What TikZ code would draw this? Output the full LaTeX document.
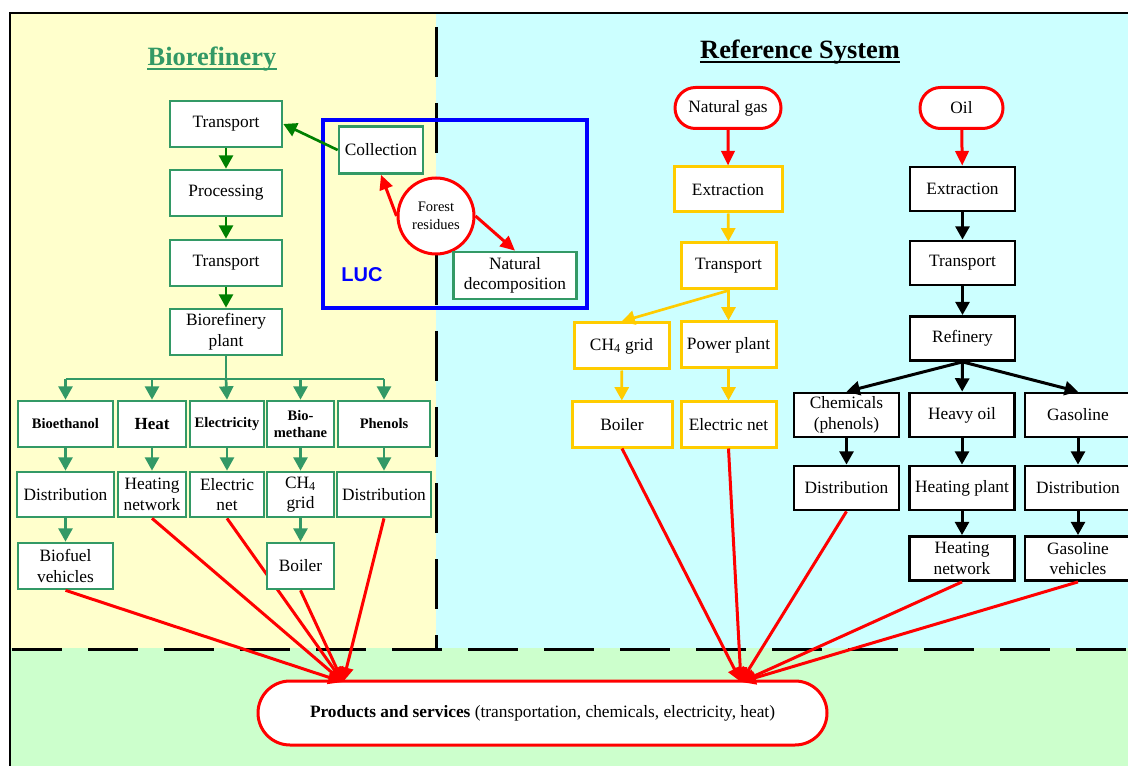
\documentclass[tikz,border=0pt]{standalone}
\usepackage{fontspec}
\setmainfont{Liberation Serif}
\newfontfamily\arialfont{Liberation Sans}
\usetikzlibrary{arrows.meta,shapes.misc}

\definecolor{bgyellow}{RGB}{255,255,204}
\definecolor{bgcyan}{RGB}{204,255,255}
\definecolor{bggreen}{RGB}{204,255,204}
\definecolor{boxgreen}{RGB}{51,153,102}
\definecolor{arrgreen}{RGB}{0,128,0}
\definecolor{gold}{RGB}{255,204,0}

\pgfdeclarelayer{back}
\pgfdeclarelayer{mid}
\pgfsetlayers{back,mid,main}

\tikzset{every picture/.style={line width=0.75pt}}
\tikzset{
  lbl/.style={font=\fontsize{13}{15.5}\selectfont, align=center, inner sep=0pt, fill=white},
  gbox/.style={lbl, draw=boxgreen, line width=2pt, minimum height=34.5pt},
  ybox/.style={lbl, draw=gold, line width=2.25pt, minimum height=34.5pt, minimum width=71.25pt},
  kbox/.style={lbl, draw=black, line width=2.1pt, minimum height=33pt, minimum width=78.75pt},
  pill/.style={lbl, rounded rectangle, draw=red, line width=2.25pt},
  prodlbl/.style={font=\fontsize{10.9}{13}\selectfont\bfseries},
  title/.style={anchor=base, inner sep=0pt, font=\fontsize{19.8}{24}\selectfont\bfseries},
  tip/.style={-{Triangle[length=10pt,width=10.5pt]}},
  garr/.style={draw=arrgreen, line width=2pt, tip},
  bline/.style={draw=boxgreen, line width=2pt},
  barr/.style={bline, tip},
  yarr/.style={draw=gold, line width=2pt, tip},
  karr/.style={draw=black, line width=2.25pt, tip},
  rarr/.style={draw=red, line width=2.25pt, -{Triangle[length=11pt,width=10pt]}},
  dashline/.style={line width=2.25pt, dash pattern=on 37.5pt off 19.5pt}
}

\begin{document}
\begin{tikzpicture}[x=0.75pt,y=0.75pt,yscale=-1,xscale=1]
\useasboundingbox (0,0) rectangle (1128,766);

\begin{pgfonlayer}{back}
%Shape: Rectangle (panels)
\fill[bgyellow] (11,14) rectangle (436,648);
\fill[bgcyan] (436,14) rectangle (1130,648);
\fill[bggreen] (11,648) rectangle (1130,768);
%Shape: Rectangle (frame)
\draw[line width=1.5pt] (10,13) rectangle (1140,780);
%Straight Lines (dashed borders)
\draw[dashline] (436,27) -- (436,648);
\draw[dashline] (12,649) -- (1128,649);
\end{pgfonlayer}

% Titles
\node (biotitle) [title, text=boxgreen] at (212,66) {Biorefinery};
\draw[boxgreen, line width=1.6pt] ([shift={(0,3)}]biotitle.base west) -- ([shift={(0,3)}]biotitle.base east);
\node (reftitle) [title] at (800,59) {Reference System};
\draw[line width=1.6pt] ([shift={(0,3)}]reftitle.base west) -- ([shift={(0,3)}]reftitle.base east);

%Shape: LUC frame
\draw[blue, line width=3.4pt] (323,120) rectangle (587,308);
\node (luc) [text=blue, font=\arialfont\bfseries\fontsize{15}{18}\selectfont] at (362,275) {LUC};

% Biorefinery chain
\node (tr1) [gbox, minimum width=84pt] at (226,124) {Transport};
\node (proc) [gbox, minimum width=84pt] at (226,193) {Processing};
\node (tr2) [gbox, minimum width=84pt] at (226,263) {Transport};
\node (plant) [gbox, minimum width=84pt] at (226,332) {Biorefinery\\plant};
\node (coll) [gbox, minimum width=63pt, minimum height=35.25pt] at (381,150) {Collection};
\node (forest) [circle, draw=red, line width=2.25pt, fill=white, minimum size=57pt, inner sep=0pt, align=center, font=\fontsize{10.9}{13.5}\selectfont] at (436,216) {Forest\\residues};
\node (natdec) [gbox, minimum width=92.25pt, minimum height=35.25pt] at (515,275.5) {Natural\\decomposition};

% Products of the biorefinery
\node (bioeth) [gbox, prodlbl, minimum width=71.25pt] at (65.5,424) {Bioethanol};
\node (heat) [gbox, minimum width=51pt, font=\fontsize{12.75}{15}\selectfont\bfseries] at (152,424) {Heat};
\node (elec) [gbox, prodlbl, minimum width=55.5pt] at (227,424) {Electricity};
\node (biometh) [gbox, prodlbl, minimum width=50.25pt] at (300.5,424) {Bio-\\methane};
\node (phen) [gbox, prodlbl, minimum width=69pt] at (384,424) {Phenols};

\node (dist1) [gbox, minimum width=72.75pt, minimum height=33.75pt] at (65.5,494.5) {Distribution};
\node (heatnet) [gbox, minimum width=51pt, minimum height=33.75pt] at (152,494.5) {Heating\\network};
\node (elecnet) [gbox, minimum width=55.5pt, minimum height=33.75pt] at (227,494.5) {Electric\\net};
\node (ch4a) [gbox, minimum width=50.25pt, minimum height=33.75pt] at (300.5,494.5) {CH\textsubscript{4}\\grid};
\node (dist2) [gbox, minimum width=70.5pt, minimum height=33.75pt] at (384,494.5) {Distribution};

\node (biofuel) [gbox, minimum width=71.25pt] at (65.5,566) {Biofuel\\vehicles};
\node (boilA) [gbox, minimum width=50.25pt] at (300.5,566) {Boiler};

% Natural gas chain
\node (ng) [pill, minimum width=79.5pt, minimum height=30.75pt] at (728,108) {Natural gas};
\node (ext1) [ybox, minimum width=81pt, minimum height=33.75pt] at (728,189.5) {Extraction};
\node (trn1) [ybox] at (728.5,266) {Transport};
\node (ch4b) [ybox] at (621.5,346) {CH\textsubscript{4} grid};
\node (pp) [ybox] at (728.5,345) {Power plant};
\node (boilB) [ybox, minimum width=75pt, minimum height=33.75pt] at (622,424.5) {Boiler};
\node (enetB) [ybox, minimum height=33.75pt] at (728.5,424.5) {Electric net};

% Oil chain
\node (oil) [pill, minimum width=62.25pt, minimum height=30.75pt] at (961.5,108) {Oil};
\node (ext2) [kbox] at (962.5,189) {Extraction};
\node (trn2) [kbox] at (962.5,263) {Transport};
\node (ref) [kbox] at (962.5,338.5) {Refinery};
\node (chem) [kbox] at (846.5,415) {Chemicals\\(phenols)};
\node (heavy) [kbox] at (962,415) {Heavy oil};
\node (gas) [kbox, minimum width=79.5pt] at (1078,415) {Gasoline};
\node (dist3) [kbox] at (846.5,488) {Distribution};
\node (hplant) [kbox] at (962,488) {Heating plant};
\node (dist4) [kbox, minimum width=79.5pt] at (1078,488) {Distribution};
\node (hnet) [kbox] at (962,558.5) {Heating\\network};
\node (gasveh) [kbox, minimum width=79.5pt] at (1078,558.5) {Gasoline\\vehicles};

% Products and services
\node (prod) [pill, minimum width=426.75pt, minimum height=48pt] at (542.5,713) {\textbf{Products and services} (transportation, chemicals, electricity, heat)};
\coordinate (inL) at (343,682);
\coordinate (inR) at (741,682);
\coordinate (bus) at (226,379);

%Straight Lines (biorefinery)
\draw[garr] (coll.west) -- (tr1.east);
\draw[rarr] (forest.west) -- (coll.south);
\draw[rarr] (forest.east) -- (natdec.north);
\draw[garr] (tr1) -- (proc);
\draw[garr] (proc) -- (tr2);
\draw[garr] (tr2) -- (plant);
\draw[bline] (plant.south) -- (bus);
\draw[bline] (bus -| bioeth) -- (bus -| phen);
\draw[barr] (bus -| bioeth) -- (bioeth.north);
\draw[barr] (bus -| heat) -- (heat.north);
\draw[barr] (bus) -- (elec.north);
\draw[barr] (bus -| biometh) -- (biometh.north);
\draw[barr] (bus -| phen) -- (phen.north);
\draw[barr] (bioeth) -- (dist1);
\draw[barr] (dist1) -- (biofuel);
\draw[barr] (heat) -- (heatnet);
\draw[barr] (elec) -- (elecnet);
\draw[barr] (biometh) -- (ch4a);
\draw[barr] (ch4a) -- (boilA);
\draw[barr] (phen) -- (dist2);

%Straight Lines (reference system)
\draw[rarr] (ng) -- (ext1);
\draw[yarr] (ext1) -- (trn1);
\draw[yarr] (trn1.south) -- (ch4b.north);
\draw[yarr] (trn1) -- (pp);
\draw[yarr] (ch4b) -- (boilB);
\draw[yarr] (pp) -- (enetB);
\draw[rarr] (oil) -- (ext2);
\draw[karr] (ext2) -- (trn2);
\draw[karr] (trn2) -- (ref);
\draw[karr] (ref.south) -- (chem.north);
\draw[karr] (ref) -- (heavy);
\draw[karr] (ref.south) -- (gas.north);
\draw[karr] (chem) -- (dist3);
\draw[karr] (heavy) -- (hplant);
\draw[karr] (gas) -- (dist4);
\draw[karr] (hplant) -- (hnet);
\draw[karr] (dist4) -- (gasveh);

%Straight Lines (to products and services)
\begin{pgfonlayer}{mid}
\draw[rarr] (elecnet.south) -- (inL);
\end{pgfonlayer}
\draw[rarr] (biofuel.south) -- (inL);
\draw[rarr] (heatnet.south) -- (inL);
\draw[rarr] (boilA.south) -- (inL);
\draw[rarr] (dist2.south) -- (inL);
\draw[rarr] (boilB.south) -- (inR);
\draw[rarr] (enetB.south) -- (inR);
\draw[rarr] (dist3.south) -- (inR);
\draw[rarr] (hnet.south) -- (inR);
\draw[rarr] (gasveh.south) -- (inR);

\end{tikzpicture}
\end{document}
